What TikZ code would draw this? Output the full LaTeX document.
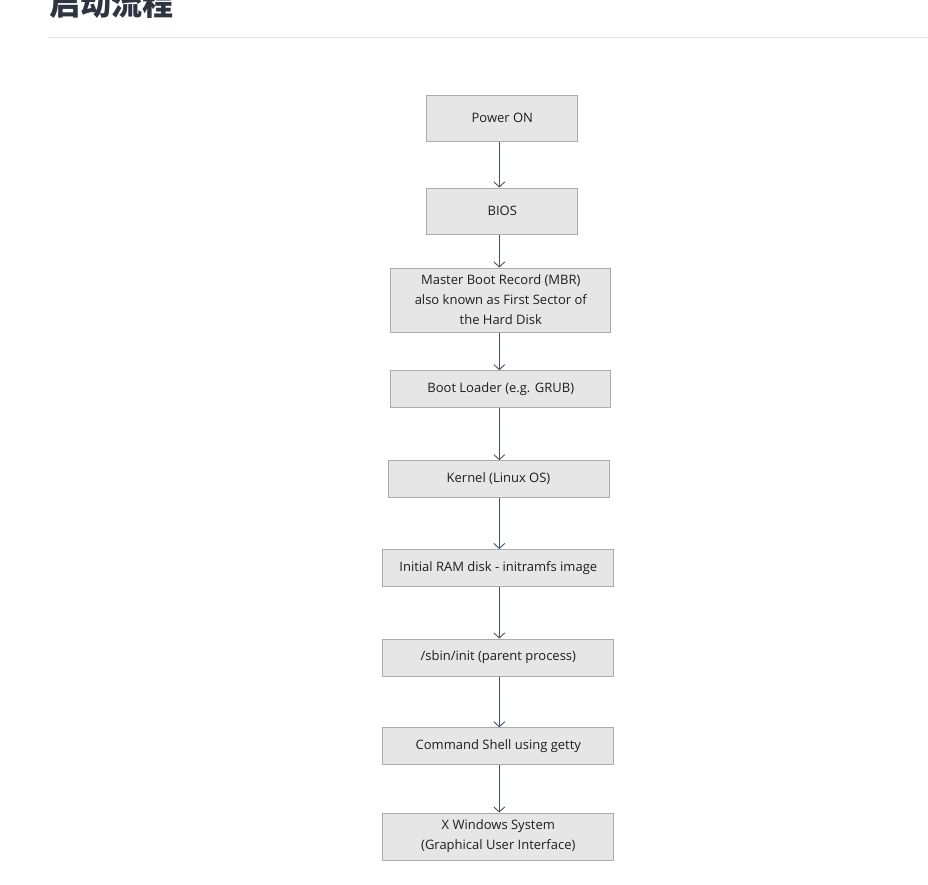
\documentclass[tikz,border=0pt]{standalone}
\usepackage{fontspec}
\setmainfont{Open Sans}
\newfontfamily\cjk{Noto Sans CJK SC}
\usetikzlibrary{arrows.meta}

\definecolor{boxfill}{HTML}{E6E6E6}
\definecolor{boxline}{HTML}{ABABAB}
\definecolor{flowline}{HTML}{445264}
\definecolor{titleink}{HTML}{2D3540}
\definecolor{boxink}{HTML}{1E1E1E}

\tikzstyle{stage} = [rectangle, draw=boxline, fill=boxfill, line width=1pt, inner sep=0pt, align=center, text=boxink, font=\fontsize{13}{20}\selectfont]
\tikzstyle{flow} = [draw=flowline, line width=1.3pt, -{Straight Barb[length=5pt,width=11pt,line width=0.9pt]}]

\begin{document}
\begin{tikzpicture}[x=1pt,y=-1pt]
      \useasboundingbox (0,0) rectangle (928,884);
      \node[anchor=base west, text=titleink, font=\cjk\bfseries\fontsize{31}{31}\selectfont, inner sep=0pt] (title) at (49,15) {启动流程};
      \draw[black!12, line width=1pt] (48,37) -- (928,37);
      \coordinate (axis) at (499.3,0);
      \node[stage, minimum width=151pt, minimum height=46pt] (power) at (502.3,118.3) {Power ON};
      \node[stage, minimum width=151pt, minimum height=46pt] (bios) at (502.3,211) {BIOS};
      \node[stage, minimum width=220pt, minimum height=64pt] (mbr) at (500.8,300) {Master Boot Record (MBR)\\also known as First Sector of\\the Hard Disk};
      \node[stage, minimum width=220pt, minimum height=37pt] (boot) at (500.8,389.2) {Boot Loader (e.g. GRUB)};
      \node[stage, minimum width=221pt, minimum height=36.6pt] (kernel) at (498.5,479) {Kernel (Linux OS)};
      \node[stage, minimum width=231pt, minimum height=37pt] (initrd) at (498.3,568) {Initial RAM disk - initramfs image};
      \node[stage, minimum width=231pt, minimum height=37pt] (init) at (498.3,657.5) {/sbin/init (parent process)};
      \node[stage, minimum width=231pt, minimum height=37pt] (shell) at (498.3,746.3) {Command Shell using getty};
      \node[stage, minimum width=231pt, minimum height=47pt] (xwin) at (498.3,836.5) {X Windows System\\(Graphical User Interface)};
      \draw[flow] (power.south -| axis) -- (bios.north -| axis);
      \draw[flow] (bios.south -| axis) -- (mbr.north -| axis);
      \draw[flow] (mbr.south -| axis) -- (boot.north -| axis);
      \draw[flow] (boot.south -| axis) -- (kernel.north -| axis);
      \draw[flow] (kernel.south -| axis) -- (initrd.north -| axis);
      \draw[flow] (initrd.south -| axis) -- (init.north -| axis);
      \draw[flow] (init.south -| axis) -- (shell.north -| axis);
      \draw[flow] (shell.south -| axis) -- (xwin.north -| axis);
    \end{tikzpicture}
\end{document}
